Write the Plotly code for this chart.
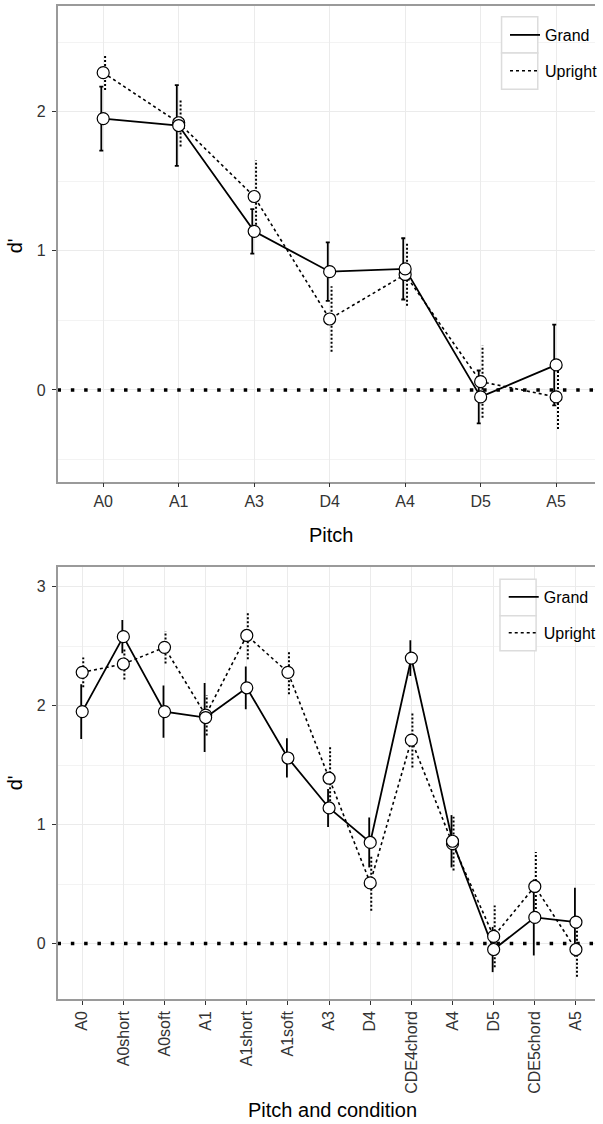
import numpy as np
import plotly.graph_objects as go

# ---------------- data ----------------
pitch = ["A0", "A1", "A3", "D4", "A4", "D5", "A5"]
grand_pitch = [1.95, 1.90, 1.14, 0.85, 0.87, -0.05, 0.18]
grand_pitch_err = [0.23, 0.29, 0.16, 0.21, 0.22, 0.19, 0.29]
upright_pitch = [2.28, 1.92, 1.39, 0.51, 0.83, 0.06, -0.05]
upright_pitch_err = [0.125, 0.17, 0.26, 0.235, 0.225, 0.26, 0.23]

condition = ["A0", "A0short", "A0soft", "A1", "A1short", "A1soft", "A3", "D4",
             "CDE4chord", "A4", "D5", "CDE5chord", "A5"]
grand_cond = [1.95, 2.58, 1.95, 1.90, 2.15, 1.56, 1.14, 0.85, 2.40, 0.86, -0.05, 0.22, 0.18]
grand_cond_err = [0.23, 0.14, 0.22, 0.29, 0.18, 0.165, 0.16, 0.21, 0.15, 0.22, 0.19, 0.32, 0.29]
upright_cond = [2.28, 2.35, 2.49, 1.92, 2.59, 2.28, 1.39, 0.51, 1.71, 0.84, 0.06, 0.48, -0.05]
upright_cond_err = [0.125, 0.13, 0.136, 0.17, 0.2, 0.185, 0.26, 0.235, 0.23, 0.225, 0.26, 0.29, 0.23]

W, H = 603, 1124
FONT = "Liberation Sans, Arial, Helvetica, sans-serif"
DODGE = 0.025
XR1 = [-0.605, 6.515]
YR1 = [-0.659, 2.761]
XR2 = [-0.6, 12.463]
YR2 = [-0.466, 3.168]

def px_x(p):
    return p / W

def px_y(p):
    return 1 - p / H

fig = go.Figure()

def add_panel(cats, grand, grand_err, upright, upright_err, xa, ya, legend, caps, gid):
    idx = np.arange(len(cats))
    g = np.array(grand)
    ge = np.array(grand_err)
    u = np.array(upright)
    ue = np.array(upright_err)
    # Grand error bars (solid)
    fig.add_trace(go.Scatter(
        x=idx - DODGE, y=g, mode="markers",
        marker=dict(size=1, color="rgba(0,0,0,0)"),
        error_y=dict(type="data", array=ge, color="black", thickness=1.8, width=caps),
        xaxis=xa, yaxis=ya, showlegend=False, hoverinfo="skip"))
    # Upright error bars (dotted)
    ex, ey = [], []
    for i in range(len(cats)):
        ex += [idx[i] + DODGE, idx[i] + DODGE, None]
        ey += [u[i] - ue[i], u[i] + ue[i], None]
    fig.add_trace(go.Scatter(
        x=ex, y=ey, mode="lines",
        line=dict(color="black", width=2, dash="2px,2px"),
        xaxis=xa, yaxis=ya, showlegend=False, hoverinfo="skip"))
    # lines
    fig.add_trace(go.Scatter(
        x=idx, y=g, mode="lines", name="Grand",
        line=dict(color="black", width=1.8),
        xaxis=xa, yaxis=ya, legend=legend, legendgroup="g" + gid))
    fig.add_trace(go.Scatter(
        x=idx, y=u, mode="lines", name="Upright",
        line=dict(color="black", width=1.6, dash="3px,3px"),
        xaxis=xa, yaxis=ya, legend=legend, legendgroup="u" + gid))
    # markers
    for vals in (u, g):
        fig.add_trace(go.Scatter(
            x=idx, y=vals, mode="markers",
            marker=dict(size=12, color="white", line=dict(color="black", width=1.2)),
            xaxis=xa, yaxis=ya, showlegend=False, hoverinfo="skip"))

add_panel(pitch, grand_pitch, grand_pitch_err, upright_pitch, upright_pitch_err,
          "x", "y", "legend", 2, "1")
add_panel(condition, grand_cond, grand_cond_err, upright_cond, upright_cond_err,
          "x2", "y2", "legend2", 0, "2")

axis_common = dict(
    ticks="outside", ticklen=4, tickwidth=1, tickcolor="#333333",
    showline=True, linecolor="#9a9a9a", linewidth=1.5,
    showgrid=True, gridcolor="#ebebeb", gridwidth=1,
    zeroline=False, automargin=False,
    tickfont=dict(family=FONT, size=16, color="#333333"),
)

legend_common = dict(
    xanchor="left", yanchor="top", bgcolor="rgba(0,0,0,0)",
    font=dict(family=FONT, size=16, color="black"),
    tracegroupgap=12, itemwidth=30, traceorder="grouped",
)

fig.update_layout(
    width=W, height=H,
    margin=dict(l=0, r=0, t=0, b=0),
    paper_bgcolor="white", plot_bgcolor="white",
    font=dict(family=FONT, color="black"),
    xaxis=dict(axis_common, domain=[px_x(58.3), 1], range=XR1,
               tickmode="array", tickvals=list(range(len(pitch))), ticktext=pitch,
               mirror=True, anchor="y"),
    yaxis=dict(axis_common, domain=[px_y(481.7), px_y(5.7)], range=YR1,
               tickmode="array", tickvals=[0, 1, 2], anchor="x", ticklabelstandoff=3,
               minor=dict(tickvals=[-0.5, 0.5, 1.5, 2.5], showgrid=True,
                          gridcolor="#f3f3f3", gridwidth=0.8, ticks="")),
    xaxis2=dict(axis_common, domain=[px_x(58.3), 1], range=XR2,
                tickmode="array", tickvals=list(range(len(condition))), ticktext=condition,
                tickangle=-90, mirror=True, anchor="y2"),
    yaxis2=dict(axis_common, domain=[px_y(999), px_y(566.7)], range=YR2,
                tickmode="array", tickvals=[0, 1, 2, 3], anchor="x2", ticklabelstandoff=3,
                minor=dict(tickvals=[-0.5, 0.5, 1.5, 2.5], showgrid=True,
                           gridcolor="#f3f3f3", gridwidth=0.8, ticks="")),
    legend=dict(legend_common, x=px_x(512), y=px_y(18)),
    legend2=dict(legend_common, x=px_x(510.5), y=px_y(580)),
    showlegend=True,
)

shapes = []
# zero reference lines
for xr, yr, rng in (("x", "y", XR1), ("x2", "y2", XR2)):
    shapes.append(dict(type="line", xref=xr, yref=yr, x0=rng[0], x1=rng[1], y0=0, y1=0,
                       line=dict(color="black", width=3.5, dash="3.5px,9.8px"),
                       layer="between"))
# legend key boxes
for (x0, x1, ys) in ((508.3, 545, (16.7, 53, 89.3)), (506.7, 543.3, (579.3, 615.7, 650.7))):
    for a, b in ((ys[0], ys[1]), (ys[1], ys[2])):
        shapes.append(dict(type="rect", xref="paper", yref="paper",
                           x0=px_x(x0), x1=px_x(x1), y0=px_y(b), y1=px_y(a),
                           line=dict(color="#dcdcdc", width=1.5), fillcolor="white",
                           layer="above"))
fig.update_layout(shapes=shapes)

title_font = dict(family=FONT, size=20, color="black")
ann = [
    dict(text="d'", x=px_x(15.5), y=px_y(246), textangle=-90),
    dict(text="d'", x=px_x(15.5), y=px_y(783), textangle=-90),
    dict(text="Pitch", x=px_x(335), y=px_y(535)),
    dict(text="Pitch and condition", x=px_x(337), y=px_y(1110)),
]
for a in ann:
    a.update(xref="paper", yref="paper", xanchor="center", yanchor="middle",
             showarrow=False, font=title_font)
fig.update_layout(annotations=ann)

fig.write_html("out.html", config={"displayModeBar": False},
               post_script="document.body.style.margin='0';document.body.style.overflow='hidden';")
